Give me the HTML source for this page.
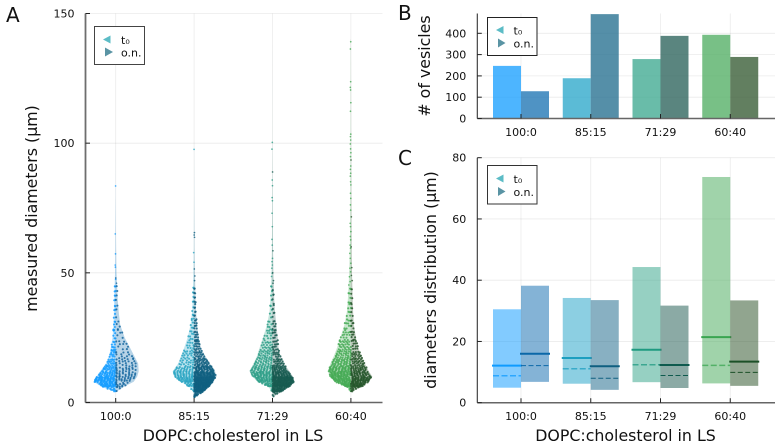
<!DOCTYPE html>
<html lang="en">
<head>
<meta charset="utf-8">
<title>Vesicle diameters by DOPC:cholesterol ratio</title>
<style>
html,body{margin:0;padding:0;background:#fff;}
body{width:781px;height:448px;overflow:hidden;}
svg{display:block;font-family:"DejaVu Sans","Liberation Sans",sans-serif;}
.tick{font-size:11px;fill:#111;}
.title{font-size:15.8px;fill:#111;}
.panel{font-size:20px;fill:#111;}
.leg{font-size:11px;fill:#111;}
</style>
</head>
<body>
<svg id="figure" width="781" height="448" viewBox="0 0 781 448" xmlns="http://www.w3.org/2000/svg">
  <rect width="781" height="448" fill="#fff"/>
  <g id="panelA"></g>
  <g id="panelB"></g>
  <g id="panelC"></g>

  <text class="panel" x="6" y="22">A</text>
  <text class="panel" x="398" y="20">B</text>
  <text class="panel" x="398" y="165">C</text>

  <text class="title" text-anchor="middle" transform="translate(37,208.5) rotate(-90)">measured diameters (µm)</text>
  <text class="title" text-anchor="middle" x="233" y="441">DOPC:cholesterol in LS</text>
  <text class="title" text-anchor="middle" transform="translate(430,66) rotate(-90)"># of vesicles</text>
  <text class="title" text-anchor="middle" transform="translate(436,280) rotate(-90)">diameters distribution (µm)</text>
  <text class="title" text-anchor="middle" x="625.5" y="441">DOPC:cholesterol in LS</text>

  <g>
    <rect x="94.5" y="26.5" width="50" height="38" fill="#fff" stroke="#444" stroke-width="1"/>
    <polygon points="103,39.5 110.5,35.5 110.5,43.5" fill="#5cbcc6"/>
    <polygon points="113,52 105,47.5 105,56.5" fill="#5a94a4"/>
    <text class="leg" x="121" y="44">t₀</text>
    <text class="leg" x="121" y="56.5">o.n.</text>
  </g>
  <g>
    <rect x="487.5" y="17.5" width="49.5" height="38" fill="#fff" stroke="#222" stroke-width="1"/>
    <polygon points="496,30 503.5,26 503.5,34" fill="#5cbcc6"/>
    <polygon points="505.5,43 498,38.5 498,47.5" fill="#5a94a4"/>
    <text class="leg" x="513.5" y="34.5">t₀</text>
    <text class="leg" x="513.5" y="47.5">o.n.</text>
  </g>
  <g>
    <rect x="487.5" y="165.5" width="49.5" height="38.5" fill="#fff" stroke="#333" stroke-width="1"/>
    <polygon points="496,178.5 503.5,174.5 503.5,182.5" fill="#5cbcc6"/>
    <polygon points="505.5,191.5 498,187 498,196" fill="#5a94a4"/>
    <text class="leg" x="513.5" y="183">t₀</text>
    <text class="leg" x="513.5" y="196">o.n.</text>
  </g>
</svg>
<script>
// ---- shared data ----
const categories = ['100:0', '85:15', '71:29', '60:40'];
const colorsT0 = ['#20a2ff', '#32aacc', '#44ab93', '#56b068'];
const colorsOn = ['#2378b5', '#2a7392', '#31675f', '#3b5f38'];
const dotColorsT0 = ['#149cff', '#2aa5c2', '#2f9f88', '#45aa55'];
const dotColorsOn = ['#14669f', '#0f5f80', '#165a50', '#24562a'];
const lineColorsT0 = ['#0f9bff', '#1d9fc0', '#1e9a80', '#3aa550'];
const lineColorsOn = ['#0b68a8', '#0f5f80', '#0f5a4e', '#1c5027'];

// ---- panel A ----
const ticksA = [0, 50, 100, 150];
const densityDiameters = [2, 4, 6, 8, 10, 12, 15, 18, 21, 25, 30, 35, 40, 50, 60, 80, 100, 140];
const densityT0 = [
  [0, 0, 14, 22, 19.5, 15.5, 10, 6.5, 5, 3.2, 2.2, 1.8, 1.5, 0.7, 0.3, 0.1, 0, 0],
  [0, 0, 5, 13, 20, 21.5, 16, 13, 10, 6.5, 3.5, 2, 1.3, 0.7, 0.3, 0.1, 0, 0],
  [0, 0, 4, 15, 20, 23, 19, 15.5, 13, 9.5, 5.5, 3, 2, 1, 0.6, 0.3, 0.1, 0],
  [0, 0, 4, 16, 21, 23, 20.5, 17, 14, 10.5, 6.5, 4, 3, 1.7, 1, 0.5, 0.3, 0.1]
];
const densityOn = [
  [0, 0, 8, 18, 21.5, 23, 22.5, 18.5, 14.5, 9, 4.5, 3, 2, 0.8, 0.4, 0, 0, 0],
  [0, 9, 15, 19, 22.5, 21, 16, 11, 7, 4.5, 3, 2, 1.5, 0.8, 0.4, 0.1, 0, 0],
  [0, 9, 17, 22, 20.5, 17, 11.5, 8, 6, 5.2, 3.8, 2.5, 1.7, 0.9, 0.5, 0.2, 0, 0],
  [0, 0, 11, 18, 21.5, 18, 14, 10.5, 7.5, 5, 3, 2.2, 1.8, 1.1, 0.8, 0.5, 0.3, 0.1]
];
const binEdges = [2, 4, 6, 8, 10, 12, 14, 17, 20, 24, 28, 32, 38, 45];
const binCountsT0 = [
  [0, 10, 48, 58, 36, 22, 20, 12, 10, 6, 6, 6, 8],
  [0, 3, 18, 36, 32, 24, 20, 15, 12, 8, 5, 6, 6],
  [0, 2, 22, 44, 50, 35, 32, 25, 22, 12, 8, 5, 5],
  [0, 4, 35, 55, 60, 48, 48, 32, 28, 15, 9, 8, 7]
];
const binCountsOn = [
  [0, 3, 12, 20, 18, 17, 18, 12, 10, 5, 4, 3, 4],
  [15, 60, 85, 90, 70, 48, 40, 22, 17, 12, 9, 8, 8],
  [5, 50, 85, 85, 50, 32, 24, 14, 12, 10, 7, 5, 5],
  [0, 10, 48, 55, 40, 30, 26, 18, 12, 9, 6, 4, 4]
];
const tailT0 = [
  [83.5, 65, 57.3, 53, 52.2, 47.5],
  [97.6, 57.8, 54.1],
  [100.3, 97.7, 85.8, 83.6, 79, 77.8, 73, 67.8, 62.9, 60.7, 55.6, 54.3, 53, 51.8, 49.9, 48.6],
  [139.1, 136.3, 123.7, 121.5, 120.5, 115.6, 112.3, 103.5, 102.5, 101.2, 99.7, 97.8, 96.3, 94.8, 91.2, 89.9, 88.4, 87.3, 85.1, 83.9, 80.7, 78.7, 76.2, 74.2, 69.1, 67.8, 65.9, 64, 62.7, 60.7, 59.5, 57.5, 55.6, 53.7, 51.8, 50.4, 48.5, 46.6, 45.3]
];
const tailOn = [
  [48, 46],
  [65.5, 64.6, 63.7, 51.5, 48.8, 47],
  [88.9, 58.5, 50, 47, 46],
  [93.5, 71.6, 60, 52, 49, 47]
];

// ---- panel B ----
const ticksB = [0, 100, 200, 300, 400];
const vesiclesT0 = [247, 189, 279, 393];
const vesiclesOn = [128, 490, 388, 289];

// ---- panel C ----
const ticksC = [0, 20, 40, 60, 80];
const lowT0 = [4.9, 6.2, 6.7, 6.3];
const highT0 = [30.5, 34.2, 44.3, 73.7];
const medianT0 = [12.1, 14.6, 17.3, 21.4];
const modeT0 = [8.8, 11.1, 12.4, 12.2];
const lowOn = [6.8, 4.2, 4.8, 5.5];
const highOn = [38.2, 33.5, 31.7, 33.4];
const medianOn = [16, 11.9, 12.3, 13.4];
const modeOn = [12.1, 8, 8.9, 9.9];

// ---- axis functions ----
const yA = v => 402.5 - v * (389 / 150);
const xA = i => 115.7 + i * 78.4;
const yB = v => 118.5 - v * (85.2 / 400);
const xB = i => 521 + i * 69.75;
const yC = v => 402.7 - v * (245 / 80);
const xC = xB;
const bandB = 28;

const NS = 'http://www.w3.org/2000/svg';
function make(parent, tag, attrs) {
  const e = document.createElementNS(NS, tag);
  for (const k in attrs) e.setAttribute(k, attrs[k]);
  parent.appendChild(e);
  return e;
}

function drawFrame(g, opts) {
  const L = opts.left, R = opts.right, T = opts.top, B = opts.bottom;
  opts.yTicks.forEach(t => {
    const y = opts.yScale(t);
    const grid = make(g, 'line', {x1: L, x2: R, y1: y, y2: y, stroke: '#000', 'stroke-opacity': 0.08, 'stroke-width': 0.8});
    
    
  });
  categories.forEach((c, i) => {
    const x = opts.xScale(i);
    const grid = make(g, 'line', {x1: x, x2: x, y1: T, y2: B, stroke: '#000', 'stroke-opacity': 0.08, 'stroke-width': 0.8});
    
    
  });
}

function drawAxes(g, opts) {
  const L = opts.left, R = opts.right, T = opts.top, B = opts.bottom;
  const ySpine = make(g, 'line', {x1: L, x2: L, y1: T, y2: B, stroke: opts.spine, 'stroke-width': opts.spineWidth});
  
  
  const xSpine = make(g, 'line', {x1: L, x2: R, y1: B, y2: B, stroke: '#666', 'stroke-width': 1.5});
  
  
  opts.yTicks.forEach(t => {
    const y = opts.yScale(t);
    const mark = make(g, 'line', {x1: L, x2: L + 4.5, y1: y, y2: y, stroke: '#222', 'stroke-width': 1});
    
    
    const label = make(g, 'text', {x: L - 11, y: y + 4, 'text-anchor': 'end', class: 'tick'});
    
    
    label.textContent = String(t);
  });
  categories.forEach((c, i) => {
    const x = opts.xScale(i);
    const mark = make(g, 'line', {x1: x, x2: x, y1: B, y2: B - 4.5, stroke: '#222', 'stroke-width': 1});
    
    
    const label = make(g, 'text', {x: x, y: opts.labelY, 'text-anchor': 'middle', class: 'tick'});
    
    
    label.textContent = c;
  });
}

// ---- panel A drawing ----
function widthAt(density, d) {
  const g = densityDiameters;
  if (d <= g[0]) return density[0];
  for (let k = 1; k < g.length; k++) {
    if (d <= g[k]) {
      const f = (d - g[k - 1]) / (g[k] - g[k - 1]);
      return density[k - 1] + f * (density[k] - density[k - 1]);
    }
  }
  return 0;
}
function frac(v) { return v - Math.floor(v); }

function drawViolinSide(g, i, side, density, counts, tail, fill, dot, seed) {
  const cx = xA(i);
  let d = 'M' + cx + ' ' + yA(densityDiameters[0]);
  densityDiameters.forEach((v, k) => {
    d += 'L' + (cx + side * density[k]).toFixed(2) + ' ' + yA(v).toFixed(2);
  });
  d += 'L' + cx + ' ' + yA(densityDiameters[densityDiameters.length - 1]) + 'Z';
  const area = make(g, 'path', {d: d, fill: fill, 'fill-opacity': 0.32});
  
  

  let idx = seed;
  counts.forEach((n, b) => {
    const lo = binEdges[b], hi = binEdges[b + 1];
    for (let j = 0; j < n; j++) {
      idx += 1;
      const value = lo + (hi - lo) * frac(idx * 0.7548777 + 0.31 * (b + 1));
      const reach = widthAt(density, value) * frac(idx * 0.5698403 + 0.17 * (b + 1)) * 0.98;
      const c = make(g, 'circle', {cx: (cx + side * reach).toFixed(2), cy: yA(value).toFixed(2), r: 1.05, fill: dot, 'fill-opacity': 0.85});
      
      
    }
  });
  tail.forEach(value => {
    idx += 1;
    const reach = Math.max(widthAt(density, value), 0.6) * frac(idx * 0.5698403);
    const c = make(g, 'circle', {cx: (cx + side * reach).toFixed(2), cy: yA(value).toFixed(2), r: 0.85, fill: dot, 'fill-opacity': 0.8});
    
    
  });
}

const panelA = document.getElementById('panelA');
const frameA = {left: 85.5, right: 382.5, top: 13.5, bottom: 402.5, yTicks: ticksA, yScale: yA, xScale: xA, labelY: 420, spine: '#6e6e6e', spineWidth: 1.8};
drawFrame(panelA, frameA);
categories.forEach((c, i) => {
  drawViolinSide(panelA, i, -1, densityT0[i], binCountsT0[i], tailT0[i], colorsT0[i], dotColorsT0[i], 3 + i * 41);
  drawViolinSide(panelA, i, 1, densityOn[i], binCountsOn[i], tailOn[i], colorsOn[i], dotColorsOn[i], 17 + i * 29);
});
drawAxes(panelA, frameA);

// ---- panel B drawing ----
const panelB = document.getElementById('panelB');
const frameB = {left: 477.3, right: 775, top: 13.5, bottom: 118.5, yTicks: ticksB, yScale: yB, xScale: xB, labelY: 136, spine: '#333', spineWidth: 1.1};
drawFrame(panelB, frameB);
categories.forEach((c, i) => {
  const x = xB(i);
  const t0 = make(panelB, 'rect', {x: x - bandB, y: yB(vesiclesT0[i]), width: bandB, height: yB(0) - yB(vesiclesT0[i]), fill: colorsT0[i], 'fill-opacity': 0.8});
  
  
  const on = make(panelB, 'rect', {x: x, y: yB(vesiclesOn[i]), width: bandB, height: yB(0) - yB(vesiclesOn[i]), fill: colorsOn[i], 'fill-opacity': 0.8});
  
  
});
drawAxes(panelB, frameB);

// ---- panel C drawing ----
const panelC = document.getElementById('panelC');
const frameC = {left: 477.3, right: 775, top: 157.7, bottom: 402.7, yTicks: ticksC, yScale: yC, xScale: xC, labelY: 420, spine: '#333', spineWidth: 1.1};
drawFrame(panelC, frameC);
function drawRange(i, side, low, high, median, mode, fill, line, name) {
  const x0 = side < 0 ? xC(i) - bandB : xC(i);
  const box = make(panelC, 'rect', {x: x0, y: yC(high), width: bandB, height: yC(low) - yC(high), fill: fill, 'fill-opacity': 0.56});
  
  
  const med = make(panelC, 'line', {x1: x0 - 1, x2: x0 + bandB + 1, y1: yC(median), y2: yC(median), stroke: line, 'stroke-width': 2});
  
  
  const dash = make(panelC, 'line', {x1: x0, x2: x0 + bandB, y1: yC(mode), y2: yC(mode), stroke: line, 'stroke-width': side < 0 ? 1.5 : 1, 'stroke-dasharray': side < 0 ? '6 2.5' : '5 2.5', 'stroke-opacity': side < 0 ? 0.75 : 1});
  
  
}
categories.forEach((c, i) => {
  drawRange(i, -1, lowT0[i], highT0[i], medianT0[i], modeT0[i], colorsT0[i], lineColorsT0[i], 't0');
  drawRange(i, 1, lowOn[i], highOn[i], medianOn[i], modeOn[i], colorsOn[i], lineColorsOn[i], 'on');
});
drawAxes(panelC, frameC);
</script>
</body>
</html>
